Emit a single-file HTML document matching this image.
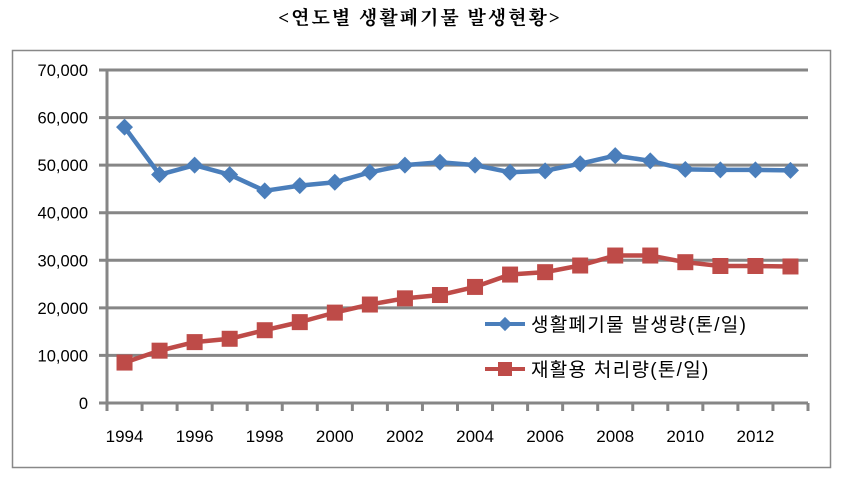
<!DOCTYPE html>
<html><head><meta charset="utf-8"><style>
body{margin:0;background:#fff;width:841px;height:477px;overflow:hidden}
svg{font-family:"Liberation Sans","Noto Sans CJK KR",sans-serif}
</style></head><body>
<svg id="s" width="841" height="477" xmlns="http://www.w3.org/2000/svg">
<text x="420" y="24" text-anchor="middle" font-size="19" font-weight="bold" letter-spacing="2" font-family="Liberation Serif,Noto Serif CJK SC,serif">&lt;연도별  생활폐기물  발생현황&gt;</text>
<rect x="12.5" y="50.5" width="818" height="417" fill="none" stroke="#888" stroke-width="1.5"/>
<g id="g"></g>
<line x1="485" y1="324" x2="525" y2="324" stroke="#4a7ebb" stroke-width="4"/>
<rect x="500" y="319" width="10" height="10" fill="#4a7ebb" transform="rotate(45 505 324)"/>
<text x="531" y="331" font-size="19" letter-spacing="1.3">생활폐기물 발생량(톤/일)</text>
<line x1="485" y1="369" x2="525" y2="369" stroke="#be4b48" stroke-width="4"/>
<rect x="498" y="362" width="14" height="14" fill="#be4b48"/>
<text x="531" y="376" font-size="19" letter-spacing="1.3">재활용 처리량(톤/일)</text>
</svg>
<script>
var g=document.getElementById('g'),L=107,R=808,T=70,B=403,h='';
function Y(v){return B-v*(B-T)/70000}
for(var i=0;i<=7;i++){var y=Y(i*10000);h+='<line x1="99" x2="'+R+'" y1="'+y+'" y2="'+y+'" stroke="#868686" stroke-width="3"/>';
h+='<text x="88" y="'+(y+6)+'" text-anchor="end" font-size="16.5">'+(i?(i*10)+',000':'0')+'</text>';}
h+='<line x1="'+L+'" x2="'+L+'" y1="'+T+'" y2="'+(B+8)+'" stroke="#868686" stroke-width="3"/>';
var w=(R-L)/20;
for(var i=1;i<=20;i++){var x=L+i*w;h+='<line x1="'+x+'" x2="'+x+'" y1="'+B+'" y2="'+(B+8)+'" stroke="#868686" stroke-width="3"/>';}
for(var i=0;i<20;i+=2){h+='<text x="'+(L+(i+.5)*w)+'" y="442" text-anchor="middle" font-size="17">'+(1994+i)+'</text>';}
var b=[58000,48000,50000,48000,44600,45700,46400,48500,50000,50600,50000,48500,48800,50300,52000,50900,49100,49000,49000,48900];
var r=[8500,11000,12800,13500,15300,17000,19000,20700,22000,22700,24400,27000,27500,28900,31000,31000,29600,28800,28800,28700];
function line(d,c){var p=d.map(function(v,i){return (L+(i+.5)*w)+','+Y(v)}).join(' ');return '<polyline points="'+p+'" fill="none" stroke="'+c+'" stroke-width="4.5" stroke-linejoin="round"/>';}
h+=line(b,'#4a7ebb');h+=line(r,'#be4b48');
b.forEach(function(v,i){var x=L+(i+.5)*w,y=Y(v);h+='<rect x="'+(x-6)+'" y="'+(y-6)+'" width="12" height="12" fill="#4a7ebb" transform="rotate(45 '+x+' '+y+')"/>';});
r.forEach(function(v,i){var x=L+(i+.5)*w,y=Y(v);h+='<rect x="'+(x-8)+'" y="'+(y-8)+'" width="16" height="16" fill="#be4b48"/>';});
g.innerHTML=h;
</script>
</body></html>
